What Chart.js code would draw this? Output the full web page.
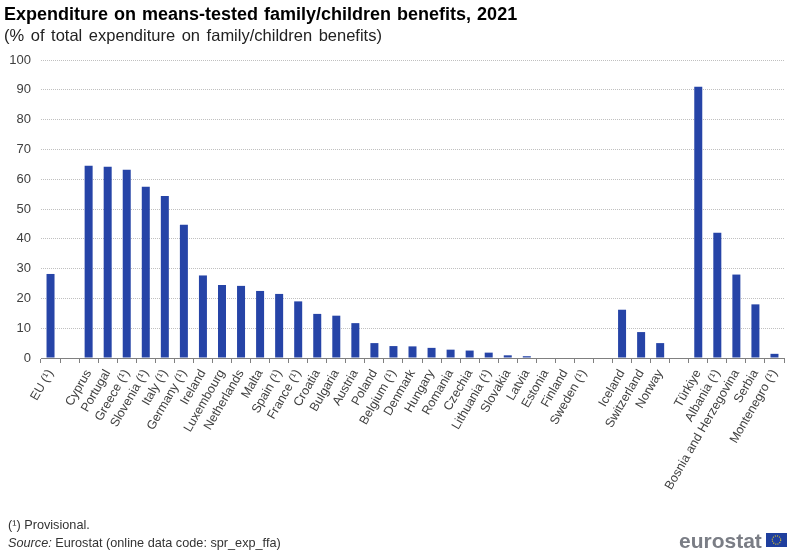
<!DOCTYPE html>
<html lang="en">
<head>
  <meta charset="UTF-8">
  <title>Expenditure on means-tested family/children benefits, 2021</title>
  <script src="https://cdn.jsdelivr.net/npm/chart.js"></script>
  <style>
    html, body { margin: 0; padding: 0; background: #fff; }
    body { width: 800px; height: 555px; position: relative; overflow: hidden; font-family: "Liberation Sans", Arial, sans-serif; }
    .chart-container { position: absolute; left: 0; top: 0; width: 800px; height: 555px; }
    .txt { position: absolute; white-space: nowrap; }
    #title { left: 4px; top: 4px; font-size: 18px; line-height: 20px; font-weight: bold; color: #000; word-spacing: 1px; }
    #subtitle { left: 4px; top: 25px; font-size: 16.5px; line-height: 20px; color: #222; word-spacing: 2px; }
    #note { left: 8px; top: 518px; font-size: 12.7px; line-height: 14px; color: #333; }
    #source { left: 8px; top: 536px; font-size: 12.7px; line-height: 14px; color: #333; }
    #logo { left: 679px; top: 529px; font-size: 21px; line-height: 24px; font-weight: bold; color: #7a7d85; }
    #flag { position: absolute; left: 766px; top: 533px; }
  </style>
</head>
<body>
<div class="chart-container"><canvas id="benefitsChart" width="800" height="555"></canvas></div>
<div class="txt" id="title">Expenditure on means-tested family/children benefits, 2021</div>
<div class="txt" id="subtitle">(% of total expenditure on family/children benefits)</div>
<div class="txt" id="note">(&#185;) Provisional.</div>
<div class="txt" id="source"><i>Source:</i> Eurostat (online data code: spr_exp_ffa)</div>
<div class="txt" id="logo">eurostat</div>
<svg id="flag" width="21" height="14" viewBox="0 0 21 14">
  <rect width="21" height="14" fill="#1f3f9e"></rect>
  <circle cx="10.5" cy="7" r="4.2" fill="none" stroke="#c9b53a" stroke-width="1.2" stroke-dasharray="1.1 1.1"></circle>
</svg>

<script>
const countries = [
  'EU (¹)', '', 'Cyprus', 'Portugal', 'Greece (¹)', 'Slovenia (¹)', 'Italy (¹)', 'Germany (¹)',
  'Ireland', 'Luxembourg', 'Netherlands', 'Malta', 'Spain (¹)', 'France (¹)', 'Croatia', 'Bulgaria',
  'Austria', 'Poland', 'Belgium (¹)', 'Denmark', 'Hungary', 'Romania', 'Czechia', 'Lithuania (¹)',
  'Slovakia', 'Latvia', 'Estonia', 'Finland', 'Sweden (¹)', '', 'Iceland', 'Switzerland', 'Norway', '',
  'Türkiye', 'Albania (¹)', 'Bosnia and Herzegovina', 'Serbia', 'Montenegro (¹)'
];
const shares = [
  28.2, null, 64.5, 64.2, 63.2, 57.5, 54.4, 44.7,
  27.7, 24.5, 24.2, 22.5, 21.5, 19, 14.8, 14.2,
  11.7, 5, 4, 3.9, 3.4, 2.8, 2.5, 1.8,
  0.9, 0.6, 0, 0, 0, null, 16.2, 8.7, 5, null,
  91, 42, 28, 18, 1.4
];
const yTicks = [0, 10, 20, 30, 40, 50, 60, 70, 80, 90, 100];

const ctx = document.getElementById('benefitsChart').getContext('2d');
new Chart(ctx, {
  type: 'bar',
  data: {
    labels: countries,
    datasets: [{ data: shares, backgroundColor: '#2644a7', barPercentage: 0.42, categoryPercentage: 1 }]
  },
  options: {
    responsive: false,
    animation: false,
    layout: { padding: { top: 60, left: 0, right: 16, bottom: 0 } },
    plugins: { legend: { display: false }, title: { display: false }, tooltip: { enabled: false } },
    scales: {
      x: {
        afterFit: s => { s.height = 197; },
        border: { display: true, color: '#808080', width: 1 },
        grid: { drawOnChartArea: false, drawTicks: true, tickLength: 5, tickColor: '#808080', offset: true },
        ticks: {
          autoSkip: false, maxRotation: 60, minRotation: 60, padding: 4,
          color: '#404040', font: { family: '"Liberation Sans"', size: 12.5 }
        }
      },
      y: {
        min: 0, max: 100,
        afterFit: s => { s.width = 41; },
        afterBuildTicks: s => { s.ticks = yTicks.map(v => ({ value: v })); },
        border: { display: false, dash: [1, 1] },
        grid: { color: ctx => ctx.tick.value === 0 ? 'rgba(0,0,0,0)' : '#c0c0c0', lineWidth: 1, drawTicks: false },
        ticks: {
          padding: 10, color: '#404040', font: { family: '"Liberation Sans"', size: 13 }
        }
      }
    }
  }
});
</script>
</body>
</html>
